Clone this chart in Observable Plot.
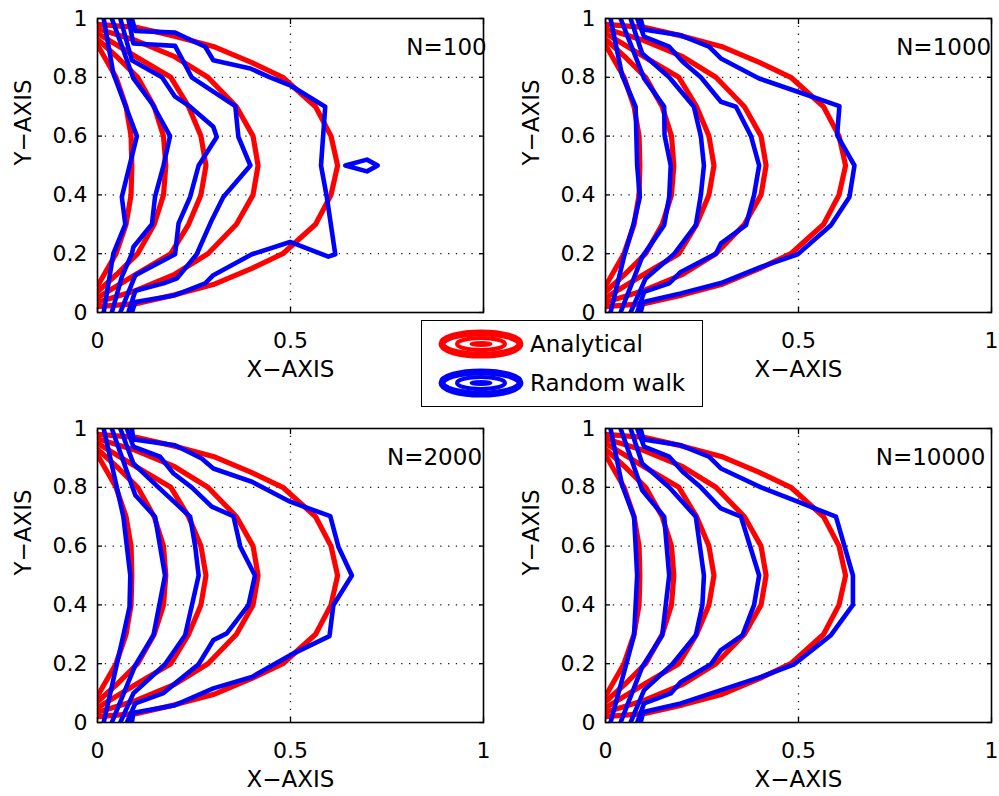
<!DOCTYPE html>
<html><head><meta charset="utf-8">
<script src="https://cdn.jsdelivr.net/npm/d3@7"></script>
<script src="https://cdn.jsdelivr.net/npm/@observablehq/plot@0.6"></script>
<style>
body{margin:0;background:#fff;}
#wrap{position:relative;width:999px;height:796px;overflow:hidden;background:#fff;font-family:"DejaVu Sans",sans-serif;}
.panel{position:absolute;}
#legend{position:absolute;left:421px;top:320px;width:282px;height:87px;box-sizing:border-box;border:1.5px solid #000;background:#fff;z-index:5;}
#legend .row{position:absolute;left:0;height:40px;width:280px;}
#legend .lab{position:absolute;left:108px;font-size:23px;color:#000;line-height:1;}
</style></head>
<body><div id="wrap"></div>
<script>
// ---- tick values and labels ----
const xTicks = [0, 0.5, 1];
const xTickLabels = ["0", "0.5", "1"];
const yTicks = [0, 0.2, 0.4, 0.6, 0.8, 1];
const yTickLabels = ["0", "0.2", "0.4", "0.6", "0.8", "1"];

// ---- analytical contours (same in every panel) ----
const ana1 = [[0,0.91],[0.048,0.8],[0.074,0.7],[0.087,0.6],[0.089,0.5],[0.087,0.4],[0.074,0.3],[0.048,0.2],[0,0.09]];
const ana2 = [[0,0.93],[0.05,0.87],[0.104,0.8],[0.147,0.7],[0.171,0.6],[0.177,0.5],[0.171,0.4],[0.147,0.3],[0.104,0.2],[0.05,0.13],[0,0.07]];
const ana3 = [[0,0.95],[0.1,0.87],[0.19,0.8],[0.236,0.7],[0.268,0.6],[0.281,0.5],[0.268,0.4],[0.236,0.3],[0.19,0.2],[0.1,0.13],[0,0.05]];
const ana4 = [[0,0.965],[0.1,0.925],[0.2,0.87],[0.286,0.8],[0.36,0.7],[0.403,0.6],[0.416,0.5],[0.403,0.4],[0.36,0.3],[0.286,0.2],[0.2,0.13],[0.1,0.075],[0,0.035]];
const ana5 = [[0,0.98],[0.1,0.97],[0.2,0.94],[0.3,0.905],[0.4,0.85],[0.48,0.8],[0.565,0.7],[0.605,0.6],[0.622,0.5],[0.605,0.4],[0.565,0.3],[0.48,0.2],[0.4,0.15],[0.3,0.095],[0.2,0.06],[0.1,0.03],[0,0.02]];
const analytical = [ana1, ana2, ana3, ana4, ana5];

// ---- random walk contours, N=100 ----
const walk100 = [
  [[0.016,1],[0.041,0.813],[0.102,0.6],[0.063,0.393],[0.072,0.3],[0.041,0.2],[0.016,0]],
  [[0.037,1],[0.067,0.892],[0.093,0.796],[0.141,0.711],[0.188,0.6],[0.171,0.5],[0.149,0.393],[0.141,0.3],[0.093,0.223],[0.089,0.2],[0.063,0.121],[0.037,0]],
  [[0.059,1],[0.089,0.858],[0.167,0.8],[0.201,0.734],[0.24,0.7],[0.3,0.632],[0.309,0.597],[0.262,0.5],[0.24,0.393],[0.21,0.303],[0.201,0.198],[0.098,0.127],[0.059,0]],
  [[0.08,1],[0.093,0.915],[0.201,0.907],[0.244,0.8],[0.357,0.702],[0.365,0.597],[0.396,0.5],[0.326,0.393],[0.296,0.314],[0.257,0.198],[0.206,0.116],[0.171,0.099],[0.098,0.074],[0.08,0]],
  [[0.089,1],[0.098,0.958],[0.201,0.952],[0.279,0.904],[0.3,0.858],[0.396,0.83],[0.447,0.8],[0.499,0.773],[0.59,0.7],[0.579,0.5],[0.594,0.393],[0.616,0.198],[0.598,0.19],[0.499,0.24],[0.4,0.198],[0.3,0.127],[0.279,0.099],[0.201,0.059],[0.098,0.036],[0.089,0]],
  [[0.642,0.5],[0.698,0.52],[0.726,0.5],[0.698,0.48],[0.642,0.5]]
];
// ---- random walk contours, N=1000 ----
const walk1000 = [
  [[0.013,1],[0.043,0.807],[0.078,0.7],[0.082,0.5],[0.089,0.393],[0.072,0.297],[0.048,0.19],[0.013,0]],
  [[0.039,1],[0.1,0.796],[0.152,0.7],[0.153,0.603],[0.169,0.5],[0.165,0.393],[0.152,0.297],[0.095,0.189],[0.039,0]],
  [[0.065,1],[0.095,0.881],[0.165,0.8],[0.229,0.7],[0.247,0.6],[0.255,0.5],[0.247,0.4],[0.234,0.297],[0.177,0.198],[0.104,0.116],[0.065,0]],
  [[0.082,1],[0.1,0.938],[0.165,0.904],[0.2,0.853],[0.247,0.8],[0.299,0.717],[0.338,0.7],[0.377,0.6],[0.398,0.5],[0.385,0.4],[0.364,0.297],[0.299,0.235],[0.286,0.2],[0.195,0.138],[0.165,0.099],[0.1,0.07],[0.082,0]],
  [[0.091,1],[0.098,0.963],[0.195,0.943],[0.268,0.904],[0.299,0.864],[0.398,0.796],[0.498,0.751],[0.606,0.702],[0.6,0.603],[0.645,0.5],[0.632,0.393],[0.584,0.297],[0.498,0.198],[0.403,0.155],[0.299,0.1],[0.195,0.065],[0.098,0.036],[0.091,0]]
];
// ---- random walk contours, N=2000 ----
const walk2000 = [
  [[0.016,1],[0.067,0.7],[0.085,0.5],[0.083,0.393],[0.067,0.297],[0.016,0]],
  [[0.037,1],[0.098,0.773],[0.149,0.7],[0.175,0.5],[0.145,0.297],[0.098,0.195],[0.037,0]],
  [[0.059,1],[0.093,0.881],[0.158,0.8],[0.24,0.7],[0.253,0.6],[0.262,0.5],[0.227,0.297],[0.175,0.198],[0.093,0.099],[0.059,0]],
  [[0.076,1],[0.093,0.938],[0.162,0.904],[0.197,0.847],[0.244,0.8],[0.296,0.734],[0.352,0.702],[0.37,0.598],[0.408,0.5],[0.391,0.399],[0.335,0.303],[0.3,0.28],[0.262,0.198],[0.201,0.133],[0.171,0.1],[0.098,0.065],[0.076,0]],
  [[0.089,1],[0.093,0.963],[0.201,0.943],[0.27,0.898],[0.3,0.864],[0.4,0.819],[0.499,0.751],[0.603,0.702],[0.624,0.598],[0.659,0.5],[0.611,0.399],[0.601,0.294],[0.499,0.229],[0.4,0.155],[0.3,0.116],[0.201,0.059],[0.093,0.033],[0.089,0]]
];
// ---- random walk contours, N=10000 ----
const walk10000 = [
  [[0.013,1],[0.043,0.807],[0.074,0.7],[0.082,0.5],[0.074,0.297],[0.013,0]],
  [[0.039,1],[0.095,0.79],[0.152,0.7],[0.165,0.5],[0.147,0.297],[0.095,0.189],[0.039,0]],
  [[0.065,1],[0.095,0.881],[0.165,0.8],[0.234,0.7],[0.255,0.5],[0.251,0.4],[0.234,0.297],[0.173,0.198],[0.1,0.11],[0.065,0]],
  [[0.082,1],[0.1,0.938],[0.165,0.904],[0.2,0.853],[0.247,0.8],[0.299,0.728],[0.351,0.7],[0.398,0.5],[0.385,0.4],[0.355,0.297],[0.299,0.246],[0.273,0.198],[0.195,0.138],[0.169,0.099],[0.1,0.065],[0.082,0]],
  [[0.091,1],[0.098,0.963],[0.195,0.943],[0.268,0.904],[0.299,0.864],[0.403,0.8],[0.498,0.751],[0.597,0.7],[0.641,0.5],[0.641,0.4],[0.584,0.297],[0.489,0.198],[0.403,0.155],[0.299,0.11],[0.195,0.065],[0.098,0.036],[0.091,0]]
];

const panelTitles = ["N=100", "N=1000", "N=2000", "N=10000"];
const panelWalks = [walk100, walk1000, walk2000, walk10000];
const seriesNames = ["Analytical", "Random walk"];

// ---- layout (not data) ----
const layout = [
  {left: 0,   top: 0,   width: 499, height: 398, titleX: 0.80,  hideX: [1]},
  {left: 508, top: 0,   width: 491, height: 398, titleX: 0.753, hideX: [0]},
  {left: 0,   top: 410, width: 499, height: 386, titleX: 0.75,  hideX: []},
  {left: 508, top: 410, width: 491, height: 386, titleX: 0.70,  hideX: []}
];
const colors = {"Analytical": "#ff0000", "Random walk": "#0000ff"};

function toRows(contours, series) {
  return contours.flatMap((c, i) => c.map(([x, y]) => ({x, y, series, id: series + "-" + i})));
}

const wrap = document.getElementById("wrap");
const fmtX = d => xTickLabels[xTicks.indexOf(d)];
const fmtY = d => yTickLabels[yTicks.indexOf(d)];
const inner = (arr) => arr.filter(d => d > 0 && d < 1);

panelTitles.forEach((title, k) => {
  const L = layout[k];
  const plotW = 386, plotH = 294, mL = 97, mT = 18;
  const redRows = toRows(analytical, seriesNames[0]);
  const blueRows = toRows(panelWalks[k], seriesNames[1]);
  const shownX = xTicks.filter(d => !L.hideX.includes(d)); // labels covered by the legend box
  const chart = Plot.plot({
    width: L.width, height: L.height,
    marginLeft: mL, marginRight: L.width - mL - plotW,
    marginTop: mT, marginBottom: L.height - mT - plotH,
    x: {domain: [0, 1], axis: null},
    y: {domain: [0, 1], axis: null},
    style: {fontFamily: '"DejaVu Sans", sans-serif', fontSize: "22px", color: "#000", background: "transparent", overflow: "visible"},
    marks: [
      Plot.gridX(inner(xTicks), {stroke: "#000", strokeOpacity: 0.9, strokeWidth: 1.3, strokeDasharray: "1.3,6.5"}),
      Plot.gridY(inner(yTicks), {stroke: "#000", strokeOpacity: 0.9, strokeWidth: 1.3, strokeDasharray: "1.3,6.5"}),
      Plot.line(redRows, {x: "x", y: "y", z: "id", stroke: colors["Analytical"], strokeWidth: 5.2, strokeLinejoin: "round", clip: true}),
      Plot.line(blueRows, {x: "x", y: "y", z: "id", stroke: colors["Random walk"], strokeWidth: 4.6, strokeLinejoin: "round", clip: true}),
      Plot.axisX(shownX, {anchor: "bottom", tickSize: 0, tickPadding: 20, tickFormat: fmtX, label: null, fontSize: 22}),
      Plot.axisY(yTicks, {anchor: "left", tickSize: 0, tickPadding: 10, tickFormat: fmtY, label: null, fontSize: 22}),
      Plot.axisX(xTicks, {anchor: "bottom", tickSize: -5, tickFormat: () => "", label: null, strokeWidth: 1.3}),
      Plot.axisX(xTicks, {anchor: "top", tickSize: -5, tickFormat: () => "", label: null, strokeWidth: 1.3}),
      Plot.axisY(yTicks, {anchor: "left", tickSize: -5, tickFormat: () => "", label: null, strokeWidth: 1.3}),
      Plot.axisY(yTicks, {anchor: "right", tickSize: -5, tickFormat: () => "", label: null, strokeWidth: 1.3}),
      Plot.frame({stroke: "#000", strokeWidth: 1.6}),
      Plot.text([{t: title, x: L.titleX, y: 0.9}], {x: "x", y: "y", text: "t", textAnchor: "start", lineAnchor: "middle", fontSize: 23, fill: "#000"}),
      Plot.text(["X\u2212AXIS"], {frameAnchor: "bottom", dy: 57, lineAnchor: "middle", fontSize: 23, fill: "#000"}),
      Plot.text(["Y\u2212AXIS"], {frameAnchor: "left", dx: -74, rotate: -90, lineAnchor: "middle", fontSize: 23, fill: "#000"})
    ]
  });
  const div = document.createElement("div");
  div.className = "panel";
  div.style.left = L.left + "px";
  div.style.top = L.top + "px";
  div.appendChild(chart);
  wrap.appendChild(div);
});

// ---- legend ----
const legend = document.createElement("div");
legend.id = "legend";
function icon(color) {
  return `<svg width="100" height="40" style="position:absolute;left:9px;top:0" viewBox="0 0 100 40">
    <ellipse cx="50" cy="20" rx="39" ry="11" fill="none" stroke="${color}" stroke-width="7"/>
    <ellipse cx="50" cy="20" rx="24" ry="6" fill="none" stroke="${color}" stroke-width="4"/>
    <ellipse cx="50" cy="20" rx="10" ry="1.5" fill="none" stroke="${color}" stroke-width="3"/>
  </svg>`;
}
seriesNames.forEach((name, i) => {
  const row = document.createElement("div");
  row.className = "row";
  row.style.top = (i === 0 ? 3 : 42) + "px";
  row.innerHTML = icon(colors[name]) + `<span class="lab" style="top:9px">${name}</span>`;
  legend.appendChild(row);
});
wrap.appendChild(legend);
</script>
</body></html>
